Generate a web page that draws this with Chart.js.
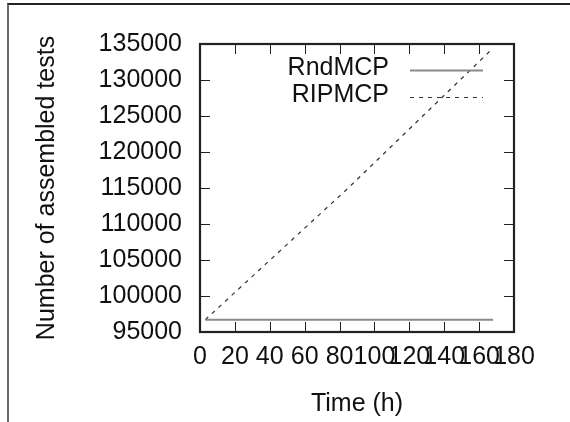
<!DOCTYPE html>
<html>
<head>
<meta charset="utf-8">
<script src="https://cdn.jsdelivr.net/npm/chart.js@4.4.1/dist/chart.umd.min.js"></script>
<style>
  html, body { margin: 0; padding: 0; background: #fff; }
  #wrap { position: relative; width: 570px; height: 422px; overflow: hidden; }
  #wrap canvas { position: absolute; left: 0; top: 0; }
  #frame { position: absolute; left: 7px; top: 3px; right: -4px; bottom: -4px;
           border-left: 2px solid #6a6a6a; border-top: 2px solid #222; }
</style>
</head>
<body>
<div id="wrap">
  <canvas id="chartTests" width="570" height="422"></canvas>
  <div id="frame"></div>
</div>
<script>
// Données
const timeRnd = [3, 168];
const testsRnd = [96700, 96700];
const timeRip = [3, 85, 167];
const testsRip = [96700, 115000, 134200];

const xTicks = [0, 20, 40, 60, 80, 100, 120, 140, 160, 180];
const yTicks = [95000, 100000, 105000, 110000, 115000, 120000, 125000, 130000, 135000];

const FONT = "'Liberation Sans', Arial, sans-serif";
const INK = "#111";

function toPoints(xs, ys) {
  return xs.map((x, i) => ({ x: x, y: ys[i] }));
}

// Cadre + graduations vers l'intérieur (style gnuplot)
const frameTicks = {
  id: "frameTicks",
  beforeDatasetsDraw(chart) {
    const { ctx, chartArea: a, scales } = chart;
    ctx.save();
    ctx.strokeStyle = "#222";
    ctx.lineWidth = 1;
    const len = 10;
    ctx.beginPath();
    xTicks.forEach(v => {
      const px = Math.round(scales.x.getPixelForValue(v)) + 0.5;
      ctx.moveTo(px, a.bottom); ctx.lineTo(px, a.bottom - len);
      ctx.moveTo(px, a.top); ctx.lineTo(px, a.top + len);
    });
    yTicks.forEach(v => {
      const py = Math.round(scales.y.getPixelForValue(v)) + 0.5;
      ctx.moveTo(a.left, py); ctx.lineTo(a.left + len, py);
      ctx.moveTo(a.right, py); ctx.lineTo(a.right - len, py);
    });
    ctx.stroke();
    ctx.restore();
  },
  afterDraw(chart) {
    const { ctx, chartArea: a } = chart;
    ctx.save();
    ctx.strokeStyle = "#222";
    ctx.lineWidth = 2.2;
    ctx.strokeRect(a.left, a.top, a.right - a.left, a.bottom - a.top);

    // légende à droite, texte aligné à droite puis échantillon
    ctx.font = "25px " + FONT;
    ctx.fillStyle = INK;
    ctx.textAlign = "right";
    ctx.textBaseline = "middle";
    chart.data.datasets.forEach((ds, i) => {
      const y = 68 + i * 27;
      ctx.fillText(ds.label, 389, y);
      ctx.strokeStyle = ds.borderColor;
      ctx.lineWidth = ds.borderWidth;
      ctx.setLineDash(ds.borderDash || []);
      ctx.beginPath();
      ctx.moveTo(410, y + 2.5);
      ctx.lineTo(483, y + 2.5);
      ctx.stroke();
    });
    ctx.restore();
  }
};

new Chart(document.getElementById("chartTests").getContext("2d"), {
  type: "scatter",
  data: {
    datasets: [
      {
        label: "RndMCP",
        data: toPoints(timeRnd, testsRnd),
        showLine: true,
        borderColor: "#8a8a8a",
        borderWidth: 2,
        pointRadius: 0
      },
      {
        label: "RIPMCP",
        data: toPoints(timeRip, testsRip),
        showLine: true,
        borderColor: "#333",
        borderWidth: 1.2,
        borderDash: [4, 5],
        pointRadius: 0
      }
    ]
  },
  options: {
    responsive: false,
    animation: false,
    layout: { padding: { top: 44, right: 56, left: 0, bottom: 0 } },
    plugins: {
      legend: { display: false },
      tooltip: { enabled: false }
    },
    scales: {
      x: {
        type: "linear",
        min: 0,
        max: 180,
        afterBuildTicks: s => { s.ticks = xTicks.map(v => ({ value: v })); },
        afterFit: s => { s.height = 90; },
        grid: { display: false, drawTicks: false },
        border: { display: false },
        ticks: {
          autoSkip: false,
          maxRotation: 0,
          padding: 10,
          color: INK,
          font: { family: FONT, size: 25 }
        },
        title: {
          display: true,
          text: "Time (h)",
          color: INK,
          padding: { top: 0, bottom: 3 },
          font: { family: FONT, size: 25 }
        }
      },
      y: {
        type: "linear",
        min: 95000,
        max: 135000,
        afterBuildTicks: s => { s.ticks = yTicks.map(v => ({ value: v })); },
        afterFit: s => { s.width = 200; },
        grid: { display: false, drawTicks: false },
        border: { display: false },
        ticks: {
          padding: 18,
          color: INK,
          font: { family: FONT, size: 25 },
          callback: v => String(v)
        },
        title: {
          display: true,
          text: "Number of assembled tests",
          color: INK,
          padding: { top: 32, bottom: 0 },
          font: { family: FONT, size: 25 }
        }
      }
    }
  },
  plugins: [frameTicks]
});
</script>
</body>
</html>
